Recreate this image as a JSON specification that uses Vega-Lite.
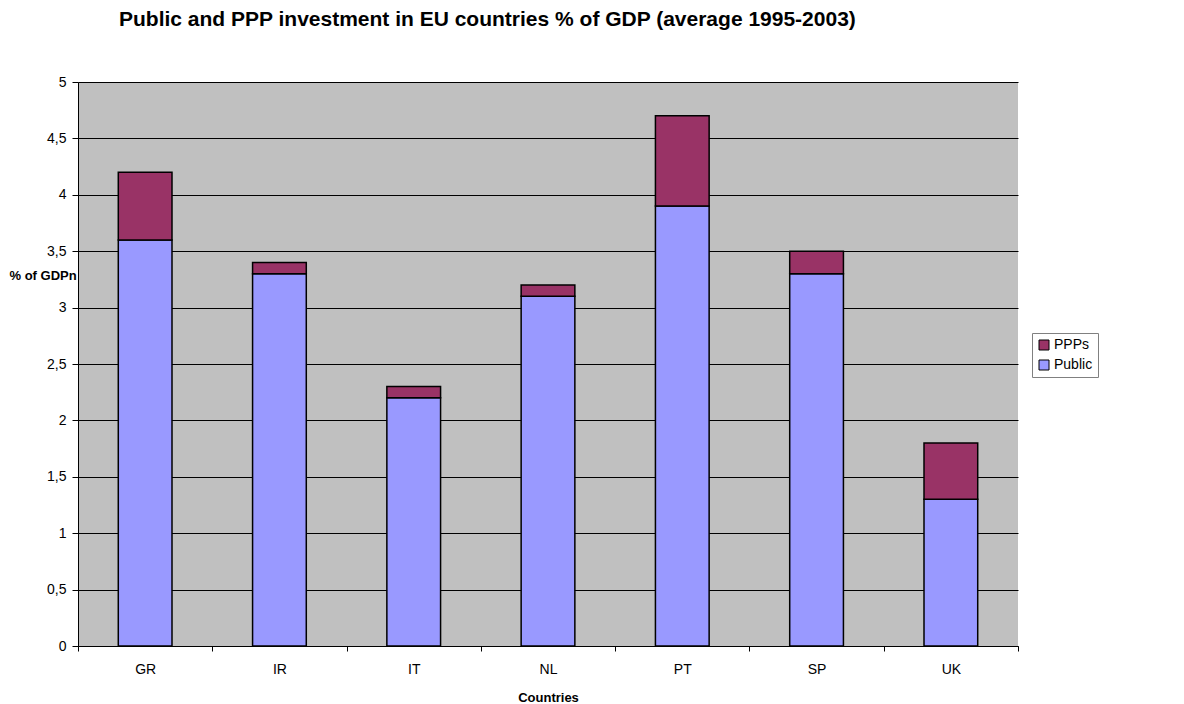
{
  "$schema": "https://vega.github.io/schema/vega-lite/v6.json",
  "width": 940,
  "height": 564,
  "autosize": {"type": "none"},
  "padding": {"left": 78, "top": 82, "right": 166, "bottom": 58},
  "background": "white",
  "config": {
    "font": "Liberation Sans",
    "view": {"fill": "#C0C0C0", "stroke": null}
  },
  "title": {
    "text": "Public and PPP investment  in EU countries % of GDP (average 1995-2003)",
    "anchor": "start",
    "frame": "group",
    "dx": 41,
    "offset": 45,
    "fontSize": 21,
    "fontWeight": "bold",
    "color": "#000000",
    "font": "Liberation Sans"
  },
  "data": {
    "values": [
      {"country": "GR", "type": "Public", "value": 3.6, "ord": 1},
      {"country": "GR", "type": "PPPs", "value": 0.6, "ord": 2},
      {"country": "IR", "type": "Public", "value": 3.3, "ord": 1},
      {"country": "IR", "type": "PPPs", "value": 0.1, "ord": 2},
      {"country": "IT", "type": "Public", "value": 2.2, "ord": 1},
      {"country": "IT", "type": "PPPs", "value": 0.1, "ord": 2},
      {"country": "NL", "type": "Public", "value": 3.1, "ord": 1},
      {"country": "NL", "type": "PPPs", "value": 0.1, "ord": 2},
      {"country": "PT", "type": "Public", "value": 3.9, "ord": 1},
      {"country": "PT", "type": "PPPs", "value": 0.8, "ord": 2},
      {"country": "SP", "type": "Public", "value": 3.3, "ord": 1},
      {"country": "SP", "type": "PPPs", "value": 0.2, "ord": 2},
      {"country": "UK", "type": "Public", "value": 1.3, "ord": 1},
      {"country": "UK", "type": "PPPs", "value": 0.5, "ord": 2}
    ]
  },
  "mark": {"type": "bar", "stroke": "#000000", "strokeWidth": 1.5, "width": {"band": 0.4}},
  "encoding": {
    "x": {
      "field": "country",
      "type": "nominal",
      "sort": null,
      "scale": {"paddingInner": 0, "paddingOuter": 0},
      "axis": {
        "title": "Countries",
        "titleFontSize": 13,
        "titleFontWeight": "bold",
        "titleColor": "#000000",
        "titlePadding": 15,
        "labelAngle": 0,
        "labelFontSize": 14,
        "labelColor": "#000000",
        "labelPadding": 11,
        "tickBand": "extent",
        "tickColor": "#000000",
        "tickSize": 5,
        "domainColor": "#000000",
        "grid": false
      }
    },
    "y": {
      "field": "value",
      "type": "quantitative",
      "stack": "zero",
      "scale": {"domain": [0, 5], "nice": false},
      "axis": {
        "title": "% of GDPn",
        "titleAngle": 0,
        "titleAlign": "left",
        "titleBaseline": "middle",
        "titleX": -69,
        "titleY": 193,
        "titleLimit": 300,
        "titleFontSize": 13,
        "titleFontWeight": "bold",
        "titleColor": "#000000",
        "values": [0, 0.5, 1, 1.5, 2, 2.5, 3, 3.5, 4, 4.5, 5],
        "labelExpr": "replace(format(datum.value, '.1~f'), '.', ',')",
        "labelFontSize": 14,
        "labelColor": "#000000",
        "labelPadding": 6,
        "tickColor": "#000000",
        "tickSize": 6,
        "domainColor": "#000000",
        "grid": true,
        "gridColor": "#000000",
        "gridOpacity": 1,
        "gridWidth": 1
      }
    },
    "color": {
      "field": "type",
      "type": "nominal",
      "scale": {"domain": ["PPPs", "Public"], "range": ["#993366", "#9999FF"]},
      "legend": {
        "title": null,
        "orient": "none",
        "legendX": 954,
        "legendY": 251,
        "symbolType": "square",
        "symbolSize": 100,
        "symbolStrokeColor": "#000000",
        "symbolStrokeWidth": 1,
        "labelFontSize": 14,
        "labelColor": "#000000",
        "labelOffset": 3,
        "rowPadding": 6,
        "padding": 5,
        "strokeColor": "#808080",
        "fillColor": "#FFFFFF"
      }
    },
    "order": {"field": "ord", "type": "quantitative"}
  }
}
